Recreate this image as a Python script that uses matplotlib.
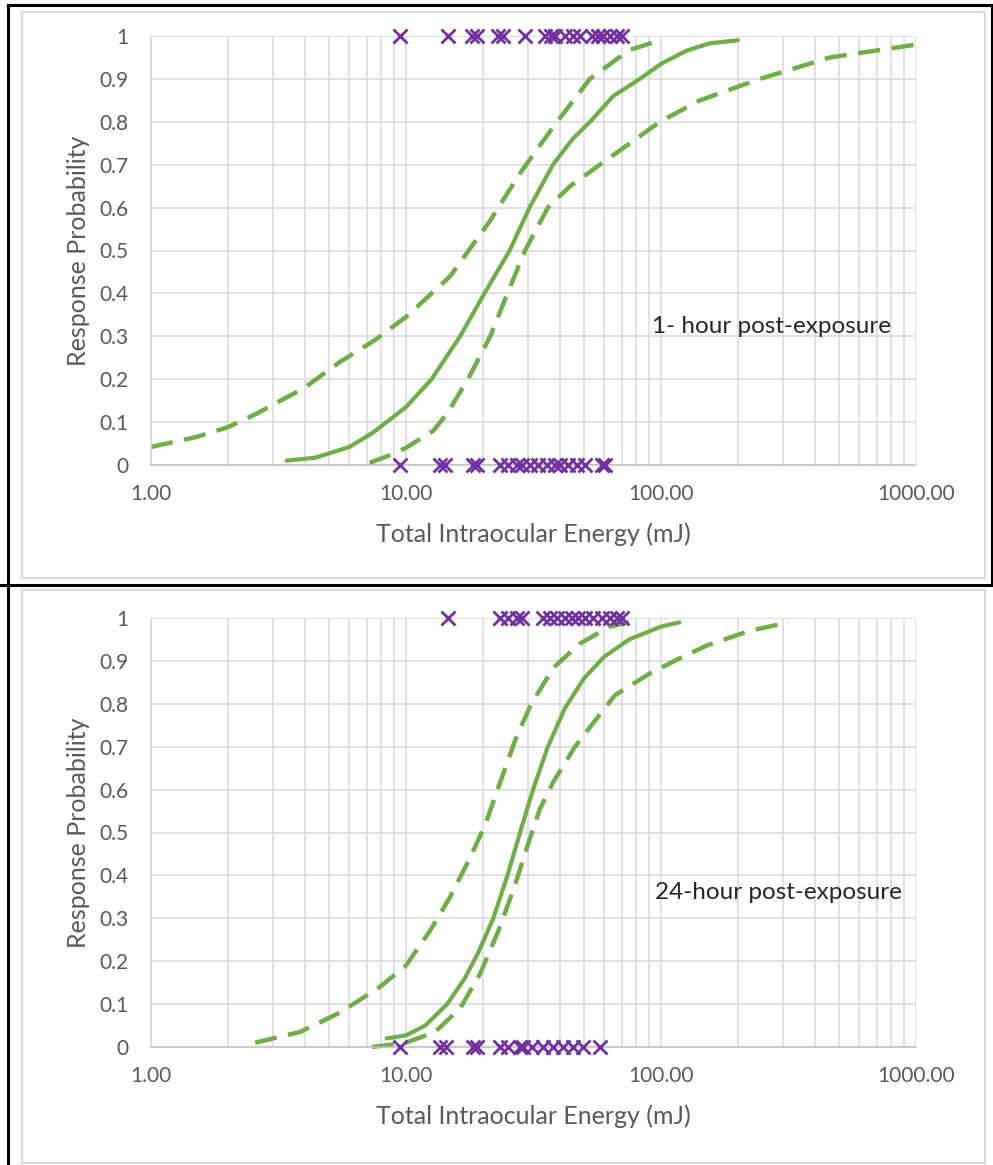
import matplotlib
matplotlib.use("Agg")
import matplotlib.pyplot as plt
from matplotlib.lines import Line2D
from matplotlib.patches import Rectangle
from matplotlib.ticker import FixedLocator, LogLocator, NullFormatter

plt.rcParams["font.family"] = ["Lato", "DejaVu Sans"]

GREEN = "#70AD47"
PURPLE = "#7030A0"
GRID = "#D9D9D9"
TEXT = "#595959"

# --- 1-hour post-exposure ---
h1_fit_x = [3.4, 4.4, 6.0, 7.4, 10, 12.6, 16.3, 20.3, 25.5, 30.5, 37.7, 45, 52.7, 65, 82.6, 100, 125, 155, 200]
h1_fit_y = [0.01, 0.017, 0.042, 0.075, 0.135, 0.2, 0.3, 0.4, 0.5, 0.6, 0.7, 0.76, 0.8, 0.86, 0.9, 0.935, 0.965, 0.983, 0.99]
h1_up_x = [1, 1.5, 2, 2.6, 3.0, 4.0, 5.5, 7.5, 10, 14.9, 21.4, 28, 38, 52.6, 75, 99]
h1_up_y = [0.042, 0.065, 0.088, 0.12, 0.14, 0.18, 0.24, 0.29, 0.345, 0.44, 0.57, 0.68, 0.79, 0.90, 0.967, 0.99]
h1_lo_x = [7.2, 8.4, 10, 12.8, 14.5, 17.5, 21.4, 25, 29.3, 36, 44, 57.6, 99, 142, 244, 460, 1000]
h1_lo_y = [0.005, 0.02, 0.04, 0.08, 0.12, 0.2, 0.3, 0.4, 0.5, 0.6, 0.65, 0.7, 0.8, 0.85, 0.9, 0.95, 0.98]
h1_resp = [9.5, 14.6, 18.1, 19.0, 22.9, 24.0, 29.3, 35.0, 37.0, 38.5, 42.0, 45.0, 48.0, 53.5, 56.5, 59.0, 63.0, 67.0, 70.0]
h1_noresp = [9.5, 13.6, 14.2, 18.3, 19.0, 23.4, 25.1, 27.2, 28.5, 30.6, 32.9, 35.7, 38.4, 40.2, 43.2, 46.8, 50.3, 58.7, 60.3]

# --- 24-hour post-exposure ---
h24_fit_x = [8.4, 10, 11.9, 14.5, 17, 19.2, 22, 25, 28, 31.5, 36, 42, 50, 60, 75, 100, 118]
h24_fit_y = [0.02, 0.027, 0.05, 0.1, 0.16, 0.22, 0.3, 0.4, 0.5, 0.6, 0.7, 0.79, 0.86, 0.91, 0.95, 0.98, 0.99]
h24_up_x = [2.56, 3.84, 5.5, 7.9, 10, 12.4, 14.9, 17.8, 20.5, 23.5, 27, 31, 38, 48, 63, 75]
h24_up_y = [0.01, 0.035, 0.08, 0.14, 0.19, 0.27, 0.35, 0.44, 0.52, 0.62, 0.72, 0.8, 0.885, 0.94, 0.98, 0.99]
h24_lo_x = [7.35, 10, 13, 16.3, 19.5, 23, 26.5, 30, 33.5, 38, 46, 55, 66, 90, 113, 150, 222, 318]
h24_lo_y = [0.0, 0.01, 0.035, 0.09, 0.17, 0.27, 0.37, 0.47, 0.555, 0.62, 0.7, 0.76, 0.82, 0.87, 0.9, 0.935, 0.97, 0.99]
h24_resp = [14.6, 23.4, 25.1, 27.2, 28.5, 34.4, 36.7, 39.1, 42.0, 44.8, 47.3, 50.3, 54.1, 58.7, 63.1, 67.2, 70.3]
h24_noresp = [9.5, 13.6, 14.4, 18.3, 19.0, 23.4, 25.1, 28.0, 28.8, 31.3, 34.4, 37.6, 41.3, 45.3, 49.5, 57.7]

x_ticks = [1, 10, 100, 1000]
x_ticklabels = ["1.00", "10.00", "100.00", "1000.00"]
y_ticks = [0, 0.1, 0.2, 0.3, 0.4, 0.5, 0.6, 0.7, 0.8, 0.9, 1]
y_ticklabels = ["0", "0.1", "0.2", "0.3", "0.4", "0.5", "0.6", "0.7", "0.8", "0.9", "1"]

W, H = 993, 1165
fig = plt.figure(figsize=(W / 100, H / 100), dpi=100)


def px_rect(x0, y0, x1, y1):
    """Convert a pixel box (top-left origin) to figure fraction."""
    return [x0 / W, 1 - y1 / H, (x1 - x0) / W, (y1 - y0) / H]


def draw_panel(rect, fit, up, lo, resp, noresp, note, note_xy):
    ax = fig.add_axes(rect)
    ax.set_xscale("log")
    ax.set_xlim(1, 1000)
    ax.set_ylim(0, 1)

    ax.xaxis.set_major_locator(FixedLocator(x_ticks))
    ax.set_xticklabels(x_ticklabels)
    ax.xaxis.set_minor_locator(LogLocator(base=10, subs=range(2, 10)))
    ax.xaxis.set_minor_formatter(NullFormatter())
    ax.set_yticks(y_ticks)
    ax.set_yticklabels(y_ticklabels)

    ax.grid(True, which="major", color=GRID, lw=1.1)
    ax.grid(True, which="minor", axis="x", color=GRID, lw=1.1)
    ax.set_axisbelow(True)
    ax.tick_params(which="both", length=0, labelsize=15, labelcolor=TEXT)
    ax.tick_params(axis="x", pad=14)
    ax.tick_params(axis="y", pad=16)
    for side in ["top", "right"]:
        ax.spines[side].set_visible(False)
    ax.spines["left"].set_color(GRID)
    ax.spines["bottom"].set_color("#BFBFBF")
    ax.spines["left"].set_linewidth(1.1)
    ax.spines["bottom"].set_linewidth(1.1)

    ax.plot(fit[0], fit[1], color=GREEN, lw=3, solid_capstyle="round",
            solid_joinstyle="round", clip_on=False)
    for xs, ys in (up, lo):
        ax.plot(xs, ys, color=GREEN, lw=3.2, linestyle=(0, (5, 2.6)), clip_on=False)

    ax.plot(resp, [1] * len(resp), linestyle="none", marker="x", ms=10,
            mew=2, color=PURPLE, clip_on=False, zorder=5)
    ax.plot(noresp, [0] * len(noresp), linestyle="none", marker="x", ms=10,
            mew=2, color=PURPLE, clip_on=False, zorder=5)

    ax.text(note_xy[0], note_xy[1], note, fontsize=17.5, color="#262626",
            ha="left", va="center")
    ax.set_xlabel("Total Intraocular Energy (mJ)", fontsize=18, color=TEXT, labelpad=13)
    ax.set_ylabel("Response Probability", fontsize=18, color=TEXT, labelpad=7)
    return ax


draw_panel(px_rect(151, 36, 916, 465), (h1_fit_x, h1_fit_y), (h1_up_x, h1_up_y),
           (h1_lo_x, h1_lo_y), h1_resp, h1_noresp, "1- hour post-exposure", (92, 0.324))
draw_panel(px_rect(151, 618, 916, 1047), (h24_fit_x, h24_fit_y), (h24_up_x, h24_up_y),
           (h24_lo_x, h24_lo_y), h24_resp, h24_noresp, "24-hour post-exposure", (95, 0.359))

# chart-area frames (light gray) and the black table rules
for box in [(22, 12, 985, 578), (22, 590, 985, 1163)]:
    r = px_rect(*box)
    fig.add_artist(Rectangle((r[0], r[1]), r[2], r[3], transform=fig.transFigure,
                             fill=False, edgecolor=GRID, lw=1.5))


def rule(x0, y0, x1, y1, lw=2.2):
    fig.add_artist(Line2D([x0 / W, x1 / W], [1 - y0 / H, 1 - y1 / H],
                          transform=fig.transFigure, color="black", lw=lw))


rule(8, 5, W, 5)
rule(8, 5, 8, H)
rule(0, 585, W, 585)
rule(W - 1, 5, W - 1, 585, lw=1.5)

fig.savefig("out.png", dpi=100, facecolor="white")
